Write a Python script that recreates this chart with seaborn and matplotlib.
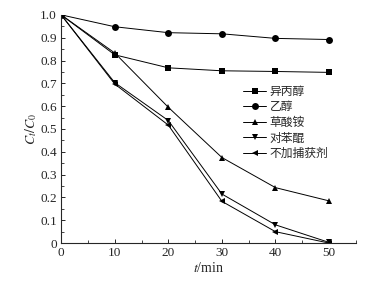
import pandas as pd
import matplotlib.pyplot as plt
import seaborn as sns
from matplotlib.ticker import MultipleLocator

# 时间 (min)
t_min = [0, 10, 20, 30, 40, 50]

# 各捕获剂下的 Ct/C0
isopropanol = [1.0, 0.825, 0.768, 0.755, 0.752, 0.748]
ethanol = [1.0, 0.948, 0.922, 0.917, 0.897, 0.892]
ammonium_oxalate = [1.0, 0.833, 0.595, 0.375, 0.243, 0.185]
benzoquinone = [1.0, 0.703, 0.537, 0.215, 0.080, 0.003]
no_scavenger = [1.0, 0.697, 0.517, 0.183, 0.050, 0.0]

labels = ["异丙醇", "乙醇", "草酸铵", "对苯醌", "不加捕获剂"]
markers = ["s", "o", "^", "v", "<"]

sns.set_style("ticks")
plt.rcParams['font.family'] = ['Liberation Serif', 'Noto Sans CJK SC']
plt.rcParams['mathtext.fontset'] = 'stix'
plt.rcParams['xtick.direction'] = 'in'
plt.rcParams['ytick.direction'] = 'in'

df = pd.DataFrame({"t": t_min * 5,
                   "ratio": isopropanol + ethanol + ammonium_oxalate + benzoquinone + no_scavenger,
                   "group": sum([[lb] * len(t_min) for lb in labels], [])})

fig = plt.figure(figsize=(3.73, 2.86), dpi=100)
ax = fig.add_axes([0.164, 0.150, 0.790, 0.798])

for lb, mk in zip(labels, markers):
    sub = df[df["group"] == lb]
    sns.lineplot(data=sub, x="t", y="ratio", ax=ax, color="black", linewidth=0.7,
                 marker=mk, markersize=5, markeredgewidth=0, label=lb)

ax.set_xlim(0, 55)
ax.set_ylim(0, 1.0)
ax.xaxis.set_major_locator(MultipleLocator(10))
ax.xaxis.set_minor_locator(MultipleLocator(5))
ax.yaxis.set_minor_locator(MultipleLocator(0.05))
ax.set_yticks([i / 10 for i in range(11)])
ax.set_yticklabels(["0"] + [f"{i / 10:.1f}" for i in range(1, 11)])
ax.tick_params(which='major', length=3, width=0.7, labelsize=9.5, pad=3)
ax.tick_params(which='minor', length=2, width=0.6)
sns.despine(ax=ax)
for sp in ax.spines.values():
    sp.set_linewidth(0.8)

ax.set_xlabel("$t$/min", fontsize=10, labelpad=1)
ax.set_ylabel("$C_t/C_0$", fontsize=10, labelpad=1)

ax.legend(loc="upper left", bbox_to_anchor=(0.60, 0.715), frameon=False,
          handlelength=2.0, handletextpad=0.3, labelspacing=0.22,
          borderaxespad=0, prop={'family': ['Noto Sans CJK SC'], 'size': 8.5})

fig.savefig("out.png", dpi=100)
